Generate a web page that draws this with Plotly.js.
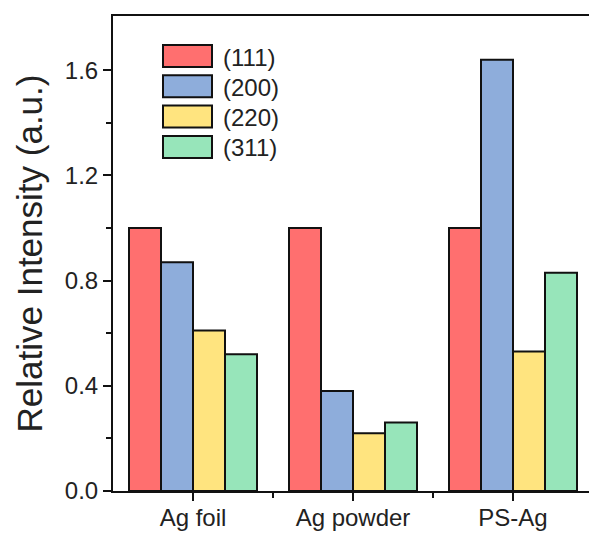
<!DOCTYPE html>
<html>
<head>
<meta charset="utf-8">
<script src="https://cdn.plot.ly/plotly-3.0.1.min.js"></script>
<style>html,body{margin:0;padding:0;background:#fff;}#chart{width:589px;height:533px;}</style>
</head>
<body>
<div id="chart"></div>
<script>
const categories = ["Ag foil", "Ag powder", "PS-Ag"];
const seriesNames = ["(111)", "(200)", "(220)", "(311)"];
const s111 = [1.00, 1.00, 1.00];
const s200 = [0.87, 0.38, 1.64];
const s220 = [0.61, 0.22, 0.53];
const s311 = [0.52, 0.26, 0.83];
const yTicks = [0.0, 0.4, 0.8, 1.2, 1.6];
const yTickLabels = ["0.0", "0.4", "0.8", "1.2", "1.6"];

const colors = ["#FF6F6F", "#8EADDB", "#FFE47F", "#97E5BA"];
const values = [s111, s200, s220, s311];
const xIdx = categories.map((c, i) => i);

const traces = values.map((v, k) => ({
  type: "bar",
  x: xIdx,
  y: v,
  name: seriesNames[k],
  marker: {color: colors[k], line: {color: "#111", width: 2}},
  showlegend: false,
  hoverinfo: "skip"
}));

// custom legend (paper coordinates)
const L = 113, T = 16, W = 476, H = 475;
const px = x => (x - L) / W;
const py = y => (T + H - y) / H;
const shapes = [];
const annotations = [];
seriesNames.forEach((n, k) => {
  const top = 45 + k * 30.3;
  shapes.push({type: "rect", xref: "paper", yref: "paper",
    x0: px(163), x1: px(212), y0: py(top + 22), y1: py(top),
    fillcolor: colors[k], line: {color: "#111", width: 2}});
  annotations.push({xref: "paper", yref: "paper", x: px(221), y: py(top + 12),
    xanchor: "left", yanchor: "middle", showarrow: false, text: n,
    font: {size: 24, color: "#222", family: "Liberation Sans, Arial, sans-serif"}});
});

const layout = {
  width: 589, height: 533,
  margin: {l: L, r: 0, t: T, b: 533 - T - H},
  paper_bgcolor: "#fff", plot_bgcolor: "#fff",
  font: {family: "Liberation Sans, Arial, sans-serif", color: "#222", size: 24},
  barmode: "group", bargap: 0.2, bargroupgap: 0,
  xaxis: {
    range: [-0.5, -0.5 + W / 160],
    tickmode: "array", tickvals: xIdx, ticktext: categories,
    ticks: "outside", ticklen: 8, tickwidth: 2, tickcolor: "#111",
    ticklabelstandoff: -4,
    showline: true, linecolor: "#111", linewidth: 2, mirror: true,
    showgrid: false, zeroline: false,
    minor: {tickmode: "array", tickvals: [0.5, 1.5], ticks: "outside", ticklen: 5, tickwidth: 2, tickcolor: "#111", showgrid: false},
    tickfont: {size: 24, color: "#222"}
  },
  yaxis: {
    range: [0, 1.806],
    tickmode: "array", tickvals: yTicks, ticktext: yTickLabels,
    ticks: "outside", ticklen: 8, tickwidth: 2, tickcolor: "#111",
    showline: true, linecolor: "#111", linewidth: 2, mirror: false,
    showgrid: false, zeroline: false,
    minor: {tickmode: "array", tickvals: [0.2, 0.6, 1.0, 1.4], ticks: "outside", ticklen: 5, tickwidth: 2, tickcolor: "#111", showgrid: false},
    tickfont: {size: 24, color: "#222"},
    title: {text: "Relative Intensity (a.u.)", font: {size: 35, color: "#222"}, standoff: 12}
  },
  shapes: shapes,
  annotations: annotations
};

Plotly.newPlot("chart", traces, layout, {displayModeBar: false, staticPlot: true});
</script>
</body>
</html>
